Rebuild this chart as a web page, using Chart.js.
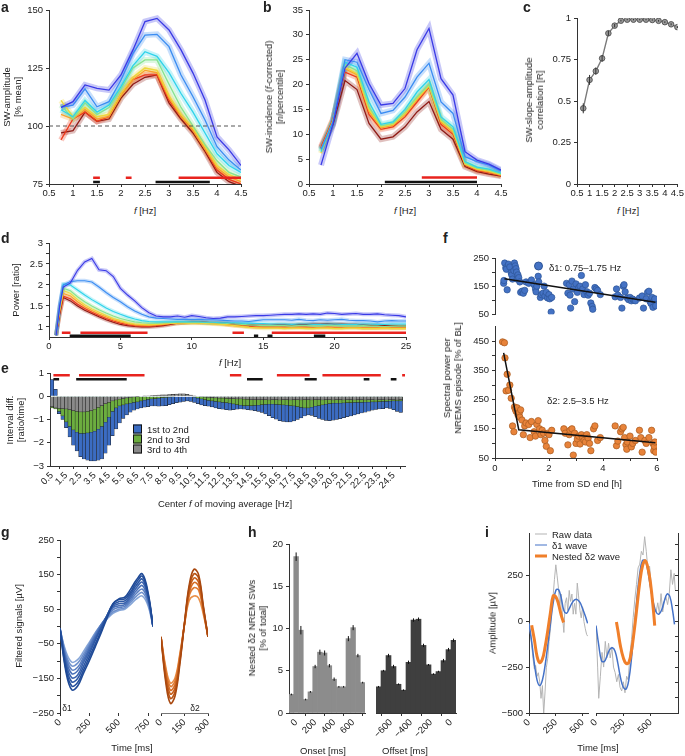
<!DOCTYPE html>
<html>
<head>
<meta charset="utf-8">
<script src="https://cdn.jsdelivr.net/npm/chart.js@4.4.1/dist/chart.umd.min.js"></script>
<style>
html, body { margin: 0; padding: 0; background: #fff; }
body { position: relative; width: 685px; height: 756px; overflow: hidden; font-family: "Liberation Sans", Arial, sans-serif; color: #222; }
canvas { position: absolute; }
.t { position: absolute; white-space: nowrap; font-size: 9.5px; line-height: 11px; text-align: center; transform: translate(-50%, -50%); }
.r { transform: translate(-50%, -50%) rotate(-90deg); }
.l { transform: translate(0, -50%); text-align: left; }
.p { position: absolute; font-weight: bold; font-size: 14px; line-height: 14px; }
.sw { display: inline-block; width: 7px; height: 7px; border: 0.5px solid #111; vertical-align: -1px; margin-right: 5px; }
</style>
</head>
<body>
<script>
// ---- a: SW amplitude per frequency ----
const aFreq = [0.75, 1, 1.25, 1.5, 1.75, 2, 2.25, 2.5, 2.75, 3, 3.25, 3.5, 3.75, 4, 4.25, 4.5];
const aBlue = [108, 110.5, 117.7, 116.2, 115.5, 122, 132.8, 145, 146.4, 141.4, 132.8, 122.8, 111.2, 95.3, 89.7, 83];
const aLightBlue = [108, 109, 116, 108.3, 110.5, 119.8, 131.3, 139.2, 139.5, 134.2, 122, 112.6, 102.6, 91.1, 85.3, 81];
const aCyan = [107, 104, 111, 106, 109, 117, 126, 132, 130, 123, 114, 106, 97, 88, 83, 80];
const aGreen = [109, 103, 110, 105, 108, 116, 125, 128.5, 128.5, 118, 108, 100, 92, 85, 80, 78];
const aYellow = [111, 104, 108, 104, 105, 114, 121, 125, 124, 113, 105, 99, 91, 83, 79, 77];
const aOrange = [105, 103, 107, 103, 104, 113, 120, 124, 123, 112, 104, 98, 90, 82, 78, 76];
const aRed = [94, 103, 106, 102, 104, 114, 120, 122, 122, 111, 104, 98, 90, 81, 77, 75];
const aDarkRed = [97, 98, 106, 102, 103, 112, 118, 121, 122, 110, 103, 97, 89, 80, 76, 74];
const aSigRed = [[1.42, 1.56], [2.1, 2.22], [3.2, 4.5]];
const aSigBlack = [[1.42, 1.56], [2.72, 3.85]];
const freqTicks = [0.5, 1, 1.5, 2, 2.5, 3, 3.5, 4, 4.5];

// ---- b: SW incidence ----
const bBlue = [3.8, 12, 23.3, 26.3, 20.2, 15.9, 16.2, 19.2, 27, 31.3, 21.2, 17.9, 6.5, 4.8, 4, 2.8];
const bLightBlue = [7, 12.5, 25, 24.5, 19, 14.2, 14.8, 17.5, 21.5, 24.3, 16.5, 14.2, 5.5, 4.5, 3.8, 2.6];
const bCyan = [6.5, 12.5, 24.5, 23.5, 16.5, 12, 12.5, 15, 18.5, 21, 13.5, 11.5, 4.5, 3.4, 3, 2.2];
const bGreen = [6.8, 12.5, 24, 22.8, 15.5, 11.7, 12.2, 14.5, 17.5, 20, 13, 11, 4.2, 3.2, 2.8, 2];
const bYellow = [6.2, 12.7, 23.5, 22.2, 15, 11.5, 12, 14.2, 17.2, 19.8, 12.7, 10.7, 4, 3, 2.6, 1.9];
const bOrange = [7, 12.8, 23.2, 22, 14.6, 11.3, 11.8, 14, 17, 19.6, 12.4, 10.4, 3.9, 2.9, 2.4, 1.8];
const bRed = [7.5, 13, 22.5, 21.5, 14, 11, 11.5, 13.5, 16.5, 19.5, 12, 10, 3.8, 2.7, 2.3, 1.7];
const bDarkRed = [7.2, 12, 20.8, 19, 12.2, 9, 9.5, 11.5, 14.5, 16.6, 11, 9, 3.5, 2.5, 2, 1.6];
const bSigRed = [[2.85, 4.0]];
const bSigBlack = [[2.08, 4.0]];

// ---- c: slope-amplitude correlation ----
const cCorr = [0.456, 0.627, 0.68, 0.757, 0.908, 0.954, 0.984, 0.99, 0.99, 0.99, 0.99, 0.988, 0.983, 0.975, 0.962, 0.945];
const cErr = [0.03, 0.03, 0.022, 0.02, 0.015, 0.01, 0.005, 0.004, 0.004, 0.004, 0.004, 0.004, 0.005, 0.005, 0.006, 0.006];

// ---- d: power spectrum ratio ----
const dFreq = [0.5, 0.75, 1, 1.5, 2, 2.5, 3, 3.5, 4, 4.5, 5, 5.5, 6, 6.5, 7, 7.5, 8, 8.5, 9, 9.5, 10, 10.5, 11, 11.5, 12, 12.5, 13, 13.5, 14, 14.5, 15, 15.5, 16, 16.5, 17, 17.5, 18, 18.5, 19, 19.5, 20, 20.5, 21, 21.5, 22, 22.5, 23, 23.5, 24, 24.5, 25];
const dBlue = [0.8, 1.5, 1.95, 2.05, 2.35, 2.55, 2.63, 2.36, 2.34, 2.2, 1.92, 1.76, 1.62, 1.46, 1.34, 1.26, 1.24, 1.24, 1.26, 1.23, 1.27, 1.25, 1.22, 1.2, 1.21, 1.24, 1.24, 1.25, 1.26, 1.27, 1.27, 1.28, 1.29, 1.3, 1.3, 1.31, 1.3, 1.31, 1.3, 1.33, 1.32, 1.3, 1.31, 1.32, 1.3, 1.3, 1.31, 1.29, 1.28, 1.27, 1.24];
const dLightBlue = [0.8, 1.5, 2.0, 2.08, 2.1, 2.1, 2.07, 1.95, 1.82, 1.7, 1.6, 1.48, 1.38, 1.3, 1.24, 1.21, 1.2, 1.19, 1.18, 1.18, 1.18, 1.18, 1.17, 1.17, 1.16, 1.15, 1.14, 1.14, 1.13, 1.15, 1.17, 1.17, 1.17, 1.17, 1.16, 1.18, 1.16, 1.15, 1.17, 1.16, 1.17, 1.18, 1.16, 1.15, 1.15, 1.14, 1.12, 1.14, 1.15, 1.14, 1.14];
const dCyan = [0.8, 1.5, 2.02, 2.0, 1.88, 1.76, 1.65, 1.55, 1.45, 1.37, 1.3, 1.24, 1.19, 1.15, 1.13, 1.12, 1.12, 1.12, 1.12, 1.12, 1.12, 1.12, 1.11, 1.11, 1.1, 1.1, 1.1, 1.09, 1.09, 1.08, 1.08, 1.07, 1.07, 1.07, 1.06, 1.07, 1.07, 1.06, 1.06, 1.07, 1.07, 1.06, 1.06, 1.06, 1.07, 1.07, 1.06, 1.06, 1.07, 1.07, 1.07];
const dGreen = [0.8, 1.45, 1.92, 1.86, 1.72, 1.6, 1.5, 1.41, 1.33, 1.26, 1.2, 1.16, 1.12, 1.1, 1.09, 1.09, 1.1, 1.1, 1.11, 1.11, 1.11, 1.11, 1.1, 1.1, 1.09, 1.08, 1.07, 1.06, 1.05, 1.04, 1.03, 1.03, 1.03, 1.03, 1.02, 1.03, 1.03, 1.02, 1.02, 1.03, 1.03, 1.02, 1.02, 1.02, 1.03, 1.02, 1.02, 1.01, 1.02, 1.02, 1.02];
const dYellow = [0.8, 1.42, 1.87, 1.8, 1.65, 1.53, 1.43, 1.35, 1.27, 1.2, 1.15, 1.1, 1.07, 1.06, 1.05, 1.06, 1.07, 1.08, 1.09, 1.09, 1.09, 1.09, 1.08, 1.07, 1.06, 1.05, 1.03, 1.01, 0.99, 0.98, 0.97, 0.97, 0.97, 0.96, 0.97, 0.97, 0.96, 0.96, 0.97, 0.97, 0.96, 0.96, 0.97, 0.97, 0.96, 0.96, 0.96, 0.97, 0.96, 0.96, 0.96];
const dOrange = [0.8, 1.38, 1.8, 1.74, 1.6, 1.48, 1.39, 1.31, 1.24, 1.17, 1.12, 1.08, 1.05, 1.04, 1.04, 1.05, 1.06, 1.08, 1.1, 1.1, 1.1, 1.1, 1.09, 1.08, 1.07, 1.05, 1.03, 1.02, 1.0, 0.99, 0.99, 0.99, 0.99, 0.98, 0.99, 0.99, 0.98, 0.98, 0.99, 0.99, 0.98, 0.98, 0.99, 0.99, 0.98, 0.98, 0.98, 0.99, 0.98, 0.98, 0.98];
const dRed = [0.8, 1.33, 1.73, 1.67, 1.54, 1.44, 1.35, 1.27, 1.2, 1.14, 1.09, 1.05, 1.03, 1.02, 1.02, 1.03, 1.05, 1.07, 1.09, 1.1, 1.11, 1.1, 1.1, 1.09, 1.08, 1.06, 1.05, 1.03, 1.02, 1.0, 1.0, 1.0, 1.0, 1.0, 0.99, 1.0, 1.0, 0.99, 0.99, 1.0, 0.99, 0.99, 0.99, 0.99, 0.98, 0.98, 0.98, 0.98, 0.98, 0.98, 0.98];
const dDarkRed = [0.8, 1.3, 1.7, 1.62, 1.5, 1.4, 1.32, 1.24, 1.17, 1.11, 1.06, 1.03, 1.01, 1.0, 1.0, 1.01, 1.03, 1.06, 1.09, 1.1, 1.12, 1.12, 1.11, 1.1, 1.1, 1.09, 1.07, 1.06, 1.05, 1.04, 1.04, 1.04, 1.05, 1.05, 1.05, 1.06, 1.06, 1.07, 1.07, 1.08, 1.07, 1.07, 1.06, 1.06, 1.05, 1.04, 1.04, 1.03, 1.03, 1.02, 1.02];
const dSigRed = [[0.9, 1.5], [2.2, 6.9], [12.85, 13.65], [15.6, 25]];
const dSigBlack = [[1.45, 5.72], [14.35, 14.65], [15.3, 15.65], [18.55, 19.35]];

// ---- e: interval differences (moving average centres, 0.25 Hz apart) ----
const eFreq = [0.5, 0.75, 1, 1.25, 1.5, 1.75, 2, 2.25, 2.5, 2.75, 3, 3.25, 3.5, 3.75, 4, 4.25, 4.5, 4.75, 5, 5.25, 5.5, 5.75, 6, 6.25, 6.5, 6.75, 7, 7.25, 7.5, 7.75, 8, 8.25, 8.5, 8.75, 9, 9.25, 9.5, 9.75, 10, 10.25, 10.5, 10.75, 11, 11.25, 11.5, 11.75, 12, 12.25, 12.5, 12.75, 13, 13.25, 13.5, 13.75, 14, 14.25, 14.5, 14.75, 15, 15.25, 15.5, 15.75, 16, 16.25, 16.5, 16.75, 17, 17.25, 17.5, 17.75, 18, 18.25, 18.5, 18.75, 19, 19.25, 19.5, 19.75, 20, 20.25, 20.5, 20.75, 21, 21.25, 21.5, 21.75, 22, 22.25, 22.5, 22.75, 23, 23.25, 23.5, 23.75, 24, 24.25, 24.5, 24.75, 25];
const eFirst = [0.72, 0.3, -0.75, -1.0, -1.35, -1.75, -2.1, -2.35, -2.6, -2.7, -2.75, -2.78, -2.78, -2.75, -2.7, -2.45, -2.1, -1.7, -1.4, -1.15, -0.95, -0.8, -0.68, -0.6, -0.55, -0.5, -0.47, -0.45, -0.42, -0.42, -0.43, -0.42, -0.4, -0.36, -0.32, -0.28, -0.25, -0.22, -0.2, -0.22, -0.27, -0.32, -0.37, -0.4, -0.43, -0.46, -0.5, -0.53, -0.56, -0.58, -0.6, -0.58, -0.56, -0.55, -0.56, -0.58, -0.6, -0.62, -0.65, -0.7, -0.76, -0.84, -0.92, -0.99, -1.05, -1.08, -1.1, -1.1, -1.06, -1.0, -0.93, -0.85, -0.8, -0.82, -0.88, -0.95, -1.0, -1.04, -1.05, -1.03, -1.0, -0.96, -0.92, -0.88, -0.85, -0.8, -0.76, -0.72, -0.68, -0.64, -0.6, -0.57, -0.55, -0.53, -0.5, -0.52, -0.58, -0.65, -0.7];
const eSecond = [-0.5, -0.55, -0.65, -0.85, -1.1, -1.3, -1.45, -1.55, -1.6, -1.6, -1.58, -1.55, -1.5, -1.42, -1.3, -1.12, -0.9, -0.65, -0.5, -0.42, -0.37, -0.33, -0.3, -0.27, -0.24, -0.2, -0.17, -0.14, -0.12, -0.1, -0.08, -0.06, -0.05, -0.04, -0.02, 0, 0.02, 0.03, 0.02, 0, -0.04, -0.08, -0.12, -0.15, -0.18, -0.2, -0.22, -0.24, -0.26, -0.28, -0.3, -0.33, -0.36, -0.38, -0.4, -0.4, -0.4, -0.39, -0.38, -0.36, -0.35, -0.34, -0.34, -0.35, -0.36, -0.37, -0.38, -0.4, -0.42, -0.45, -0.48, -0.5, -0.5, -0.47, -0.43, -0.4, -0.37, -0.34, -0.32, -0.3, -0.3, -0.3, -0.29, -0.28, -0.28, -0.27, -0.27, -0.26, -0.25, -0.25, -0.24, -0.24, -0.23, -0.22, -0.22, -0.21, -0.2, -0.2, -0.2];
const eThird = [-0.45, -0.5, -0.52, -0.53, -0.55, -0.58, -0.62, -0.65, -0.67, -0.67, -0.65, -0.62, -0.56, -0.48, -0.4, -0.32, -0.26, -0.2, -0.16, -0.13, -0.1, -0.07, -0.05, -0.03, -0.01, 0, 0.01, 0.02, 0.03, 0.04, 0.05, 0.06, 0.06, 0.07, 0.08, 0.09, 0.1, 0.1, 0.08, 0.05, 0.02, 0, -0.02, -0.04, -0.05, -0.06, -0.07, -0.08, -0.08, -0.09, -0.1, -0.1, -0.11, -0.12, -0.13, -0.14, -0.15, -0.15, -0.15, -0.15, -0.15, -0.16, -0.15, -0.15, -0.16, -0.15, -0.15, -0.16, -0.15, -0.15, -0.16, -0.15, -0.15, -0.16, -0.15, -0.15, -0.16, -0.15, -0.15, -0.16, -0.15, -0.15, -0.16, -0.15, -0.15, -0.16, -0.15, -0.15, -0.16, -0.15, -0.15, -0.16, -0.15, -0.15, -0.16, -0.15, -0.15, -0.16, -0.15];
const eSigRed = [[0.6, 1.75], [2.4, 7.0], [13.0, 13.8], [16.3, 18.6], [19.5, 23.6], [25.1, 25.3]];
const eSigBlack = [[0.6, 1.0], [2.2, 5.75], [14.2, 15.3], [18.25, 19.1], [22.4, 22.8], [24.3, 24.7]];
const eTicks = [0.5, 1.5, 2.5, 3.5, 4.5, 5.5, 6.5, 7.5, 8.5, 9.5, 10.5, 11.5, 12.5, 13.5, 14.5, 15.5, 16.5, 17.5, 18.5, 19.5, 20.5, 21.5, 22.5, 23.5, 24.5];

// ---- f: band power over recovery time ----
const fD1Time = [0.32, 0.33, 0.36, 0.4, 0.42, 0.45, 0.5, 0.55, 0.6, 0.62, 0.65, 0.7, 0.72, 0.75, 0.78, 0.8, 0.82, 0.85, 0.88, 0.92, 0.95, 1.0, 1.05, 1.1, 1.15, 1.25, 1.35, 1.45, 1.5, 1.52, 1.55, 1.6, 1.62, 1.68, 1.72, 1.78, 1.82, 1.85, 1.9, 1.95, 2.0, 2.03, 2.08, 2.1, 2.65, 2.7, 2.75, 2.78, 2.8, 2.85, 2.9, 2.95, 3.0, 3.05, 3.1, 3.15, 3.2, 3.25, 3.3, 3.35, 3.4, 3.45, 3.5, 3.55, 3.6, 3.62, 3.7, 3.75, 3.8, 3.9, 4.45, 4.5, 4.55, 4.65, 4.7, 4.75, 4.78, 4.82, 4.9, 4.95, 5.0, 5.05, 5.1, 5.15, 5.2, 5.35, 5.45, 5.5, 5.6, 5.65, 5.7, 5.75, 5.78, 5.82, 5.85, 5.9, 5.92, 5.95];
const fD1Power = [160, 170, 232, 215, 210, 137, 228, 218, 198, 190, 175, 205, 232, 222, 212, 200, 175, 190, 180, 165, 128, 132, 125, 135, 165, 160, 172, 155, 140, 130, 150, 185, 165, 110, 120, 125, 150, 115, 128, 108, 120, 105, 58, 110, 160, 125, 155, 118, 72, 168, 140, 95, 158, 128, 145, 150, 188, 140, 120, 155, 130, 118, 125, 90, 78, 68, 145, 140, 135, 120, 112, 140, 118, 110, 72, 150, 155, 130, 108, 102, 110, 98, 104, 100, 98, 108, 115, 72, 105, 128, 132, 95, 88, 110, 75, 100, 105, 80];
const fD1FitTime = [0.35, 5.94];
const fD1FitPower = [176, 93];
const fD2Time = [0.28, 0.35, 0.37, 0.41, 0.45, 0.5, 0.55, 0.6, 0.65, 0.7, 0.72, 0.75, 0.78, 0.82, 0.85, 0.9, 0.92, 0.95, 1.0, 1.05, 1.1, 1.15, 1.25, 1.3, 1.35, 1.45, 1.5, 1.55, 1.6, 1.65, 1.7, 1.75, 1.8, 1.85, 1.9, 1.95, 2.0, 2.05, 2.1, 2.55, 2.6, 2.7, 2.75, 2.78, 2.85, 2.9, 2.95, 3.0, 3.05, 3.1, 3.15, 3.2, 3.25, 3.3, 3.35, 3.4, 3.45, 3.5, 3.55, 3.65, 3.7, 3.8, 3.9, 4.45, 4.5, 4.55, 4.65, 4.7, 4.75, 4.8, 4.85, 4.88, 4.9, 5.0, 5.05, 5.1, 5.2, 5.35, 5.4, 5.45, 5.55, 5.6, 5.7, 5.8, 5.85, 5.88, 5.9, 5.92, 5.95];
const fD2Power = [448, 445, 393, 280, 337, 282, 300, 255, 160, 140, 225, 218, 210, 222, 198, 205, 190, 215, 180, 130, 160, 170, 165, 120, 175, 140, 125, 165, 178, 150, 130, 145, 135, 110, 90, 135, 130, 75, 145, 150, 135, 95, 130, 145, 150, 60, 135, 100, 115, 125, 98, 130, 120, 110, 105, 130, 118, 100, 75, 150, 160, 110, 120, 160, 92, 108, 140, 150, 155, 120, 95, 80, 105, 125, 88, 100, 110, 145, 120, 70, 110, 100, 120, 145, 100, 75, 90, 105, 70];
const fD2FitTime = [0.32, 0.88, 5.94];
const fD2FitPower = [410, 147, 102];

// ---- g: filtered waves ----
const gTime1 = [0, 50, 100, 150, 200, 250, 300, 350, 400, 450, 500, 550, 600, 650, 700, 750, 790];
const gDelta1 = [
  [-5, -130, -183, -172, -135, -98, -58, -18, 25, 65, 80, 85, 108, 135, 152, 95, 0],
  [-8, -122, -172, -162, -126, -88, -50, -12, 30, 66, 78, 80, 100, 128, 145, 90, 0],
  [-5, -112, -160, -150, -115, -78, -40, -4, 32, 62, 72, 74, 94, 120, 137, 86, 2],
  [-10, -104, -148, -140, -104, -70, -34, 0, 32, 58, 66, 68, 88, 112, 128, 82, 0],
  [-5, -95, -136, -128, -96, -62, -28, 4, 30, 54, 60, 63, 82, 104, 118, 76, 2],
  [-8, -88, -125, -118, -88, -56, -24, 6, 28, 48, 55, 58, 76, 96, 108, 70, 0],
  [-5, -80, -114, -106, -80, -50, -20, 6, 25, 42, 50, 54, 70, 88, 98, 64, 2],
  [-10, -72, -103, -96, -72, -45, -18, 5, 22, 38, 46, 50, 64, 80, 88, 58, 0]
];
const gTime2 = [0, 30, 60, 90, 120, 150, 180, 210, 240, 270, 300];
const gDelta2 = [
  [-30, -160, -222, -200, -110, 10, 120, 165, 150, 60, -30],
  [-30, -150, -208, -188, -103, 10, 112, 152, 140, 56, -30],
  [-30, -140, -195, -177, -97, 8, 104, 140, 128, 52, -30],
  [-30, -132, -184, -167, -91, 8, 96, 127, 117, 48, -30],
  [-30, -124, -173, -157, -86, 6, 88, 112, 105, 44, -30],
  [-30, -116, -163, -148, -80, 5, 75, 88, 82, 36, -30]
];

// ---- h: nested delta2 timing ----
const hOnsetMs = [-50, 0, 50, 100, 150, 200, 250, 300, 350, 400, 450, 500, 550, 600, 650, 700];
const hOnset = [2.2, 18.5, 9.8, 1.6, 2.5, 5.5, 7.2, 7.1, 5.6, 4.0, 3.1, 3.1, 8.8, 10.1, 6.8, 3.6];
const hOnsetErr = [0.1, 0.5, 0.5, 0.1, 0.1, 0.2, 0.3, 0.3, 0.2, 0.2, 0.1, 0.1, 0.3, 0.3, 0.2, 0.1];
const hOffsetMs = [-725, -675, -625, -575, -525, -475, -425, -375, -325, -275, -225, -175, -125, -75, -25, 25];
const hOffset = [3.1, 5.0, 6.8, 5.5, 3.4, 2.7, 6.0, 11.0, 11.1, 8.0, 5.7, 4.6, 4.9, 6.2, 7.5, 8.6];
const hOffsetErr = [0.1, 0.1, 0.2, 0.2, 0.1, 0.1, 0.2, 0.2, 0.2, 0.2, 0.1, 0.1, 0.1, 0.2, 0.2, 0.2];

// ---- i: example traces ----
const iRawT1 = [0, 12, 25, 37, 50, 62, 75, 87, 100, 112, 125, 137, 150, 162, 175, 187, 200, 212, 225, 237, 250, 262, 275, 287, 300, 312, 325, 337, 350, 362, 375, 387, 400, 412, 425, 437, 450, 462, 475, 487, 500, 512, 525, 537, 547];
const iRaw1 = [-20, -60, -130, -200, -260, -240, -300, -280, -330, -420, -350, -505, -380, -250, -200, -110, -40, 60, 140, 230, 310, 250, 180, 80, 150, 30, -60, 100, 130, 60, 170, 110, 150, 40, 100, 40, 210, 140, 60, 20, 80, 0, -40, -70, -80];
const iD1T1 = [0, 25, 50, 75, 100, 125, 150, 175, 200, 225, 250, 275, 300, 325, 350, 375, 400, 425, 450, 475, 500, 525, 547];
const iD1V1 = [-10, -110, -230, -320, -350, -320, -240, -130, -10, 100, 170, 175, 130, 60, 45, 70, 100, 118, 120, 105, 70, 30, -10];
const iD2T1 = [25, 50, 75, 100, 125, 150, 175, 200, 225, 250, 275, 300, 322];
const iD2V1 = [-20, -100, -190, -225, -205, -140, -50, 50, 140, 135, 95, 35, -5];
const iRawT2 = [0, 15, 25, 40, 55, 70, 85, 100, 115, 130, 145, 160, 175, 190, 205, 220, 235, 250, 265, 280, 295, 310, 325, 340, 355, 370, 385, 400, 415, 430, 445, 460, 475, 490, 505, 520, 535, 550, 565, 580, 595, 610, 625, 640, 655, 670, 685, 700, 715, 725];
const iRaw2 = [-30, -250, -420, -300, -170, -250, -110, -200, -120, -200, -140, -250, -280, -330, -290, -360, -380, -330, -390, -300, -320, -180, -100, 20, 120, 200, 290, 310, 380, 360, 460, 380, 280, 300, 200, 80, 60, 50, 100, 40, 150, 50, 110, 130, 90, 150, 280, 200, 260, 170];
const iD1T2 = [0, 25, 50, 75, 100, 125, 150, 175, 200, 225, 250, 275, 300, 325, 350, 375, 400, 425, 450, 475, 500, 525, 550, 575, 600, 625, 650, 675, 700, 718];
const iD1V2 = [-24, -130, -215, -220, -190, -155, -145, -165, -230, -310, -360, -370, -320, -200, -40, 130, 260, 330, 330, 270, 180, 100, 50, 38, 60, 110, 148, 135, 60, -18];
const iD2T2 = [187, 200, 225, 250, 275, 300, 325, 350, 375, 400, 425, 450, 475, 500, 525, 537];
const iD2V2 = [-5, -50, -140, -200, -230, -225, -160, -50, 80, 210, 300, 330, 290, 200, 60, -24];

// ---------- drawing ----------
Chart.defaults.font.family = '"Liberation Sans", Arial, sans-serif';
Chart.defaults.font.size = 9.5;
Chart.defaults.color = '#222';
Chart.defaults.animation = false;
Chart.defaults.responsive = false;
Chart.defaults.plugins.legend.display = false;
Chart.defaults.plugins.tooltip.enabled = false;
Chart.defaults.elements.point.radius = 0;
Chart.defaults.elements.line.tension = 0;

const jet = ['#3a3ae6', '#3b8df2', '#2fd3ea', '#86e38f', '#ecd93a', '#f9a12c', '#ee3a1c', '#8f1b16'];
const sigRedColor = '#e8231e';

// vertical error bars for datasets that carry an "errors" array
Chart.register({
  id: 'errorBars',
  afterDatasetsDraw(chart) {
    const ctx = chart.ctx;
    chart.data.datasets.forEach((ds, i) => {
      if (!ds.errors) return;
      const meta = chart.getDatasetMeta(i);
      const ys = chart.scales[meta.yAxisID];
      ctx.save();
      ctx.strokeStyle = ds.errorColor || '#111';
      ctx.lineWidth = 1;
      meta.data.forEach((el, j) => {
        const y = ds.data[j].y, e = ds.errors[j];
        ctx.beginPath();
        ctx.moveTo(el.x, ys.getPixelForValue(y - e));
        ctx.lineTo(el.x, ys.getPixelForValue(y + e));
        ctx.stroke();
      });
      ctx.restore();
    });
  }
});

function rgba(hex, a) {
  const n = parseInt(hex.slice(1), 16);
  return `rgba(${n >> 16},${(n >> 8) & 255},${n & 255},${a})`;
}
function pts(xs, ys) { return xs.map((x, i) => ({ x, y: ys[i] })); }
function segs(list, y) { return list.flatMap(([a, b]) => [{ x: a, y }, { x: b, y }, { x: b, y: null }]); }

function axis(min, max, ticks, o = {}) {
  const shown = o.labels || ticks;
  return {
    type: 'linear', min, max, offset: false, display: o.display !== false,
    grid: { drawOnChartArea: false, drawTicks: true, tickLength: 3, color: '#333', lineWidth: 1 },
    border: { display: o.border !== false, color: o.borderColor || '#333', width: 1 },
    ticks: {
      autoSkip: false, padding: o.pad ?? 2, minRotation: o.rot || 0, maxRotation: o.rot || 0,
      callback: v => (!o.noLabels && shown.includes(v)) ? String(v).replace('-', '\u2212') : ''
    },
    afterBuildTicks: s => { s.ticks = ticks.map(v => ({ value: v })); }
  };
}

// place a chart so that its plot area lands on [l, t, r, b] of the page
function plot(box, area, config) {
  const [x0, y0, w, h] = box, [l, t, r, b] = area;
  const cv = document.createElement('canvas');
  cv.width = w; cv.height = h;
  cv.style.left = x0 + 'px'; cv.style.top = y0 + 'px';
  document.body.appendChild(cv);
  const sc = config.options.scales;
  const pad = { left: 0, top: t - y0, right: x0 + w - r, bottom: 0 };
  if (sc.y.display === false) pad.left = l - x0; else sc.y.afterFit = s => { s.width = l - x0; };
  if (sc.x.display === false) pad.bottom = y0 + h - b; else sc.x.afterFit = s => { s.height = y0 + h - b; };
  config.options.layout = { padding: pad };
  return new Chart(cv, config);
}

function jetLines(xs, series, width, band) {
  const out = [];
  series.forEach((ys, i) => {
    out.push({ type: 'line', data: pts(xs, ys), borderColor: jet[i], borderWidth: width, order: 1 });
    out.push({ type: 'line', data: pts(xs, ys), borderColor: rgba(jet[i], 0.28), borderWidth: band, order: 2 });
  });
  return out;
}
function sigLines(red, redY, black, blackY) {
  return [
    { type: 'line', data: segs(red, redY), borderColor: sigRedColor, borderWidth: 2.5, order: -1 },
    { type: 'line', data: segs(black, blackY), borderColor: '#111', borderWidth: 2.5, order: -1 }
  ];
}

function text(html, x, y, cls, size) {
  const d = document.createElement('div');
  d.className = 't ' + (cls || '');
  d.style.left = x + 'px'; d.style.top = y + 'px';
  if (size) d.style.fontSize = size + 'px';
  d.innerHTML = html;
  document.body.appendChild(d);
}
function panel(letter, x, y) {
  const d = document.createElement('div');
  d.className = 'p'; d.style.left = x + 'px'; d.style.top = y + 'px';
  d.textContent = letter;
  document.body.appendChild(d);
}

// a
plot([0, 0, 252, 200], [49, 10, 241, 184], {
  type: 'line',
  data: { datasets: [
    ...jetLines(aFreq, [aBlue, aLightBlue, aCyan, aGreen, aYellow, aOrange, aRed, aDarkRed], 1.3, 6),
    { type: 'line', data: [{ x: 0.5, y: 100 }, { x: 4.5, y: 100 }], borderColor: '#555', borderWidth: 1, borderDash: [4, 3], order: 0 },
    ...sigLines(aSigRed, 77.7, aSigBlack, 75.9)
  ] },
  options: { scales: { x: axis(0.5, 4.5, freqTicks, { pad: 1 }), y: axis(75, 150, [75, 100, 125, 150], { pad: 3 }) } }
});

// b
plot([255, 0, 255, 200], [309, 10, 501, 184], {
  type: 'line',
  data: { datasets: [
    ...jetLines(aFreq, [bBlue, bLightBlue, bCyan, bGreen, bYellow, bOrange, bRed, bDarkRed], 1.3, 6),
    ...sigLines(bSigRed, 1.3, bSigBlack, 0.4)
  ] },
  options: { scales: { x: axis(0.5, 4.5, freqTicks, { pad: 1 }), y: axis(0, 35, [0, 5, 10, 15, 20, 25, 30, 35], { pad: 3 }) } }
});

// c
plot([530, 0, 155, 200], [577, 18, 678, 184], {
  type: 'line',
  data: { datasets: [{
    data: pts(aFreq, cCorr), borderColor: '#7a7a7a', borderWidth: 1.4,
    pointRadius: 2.8, pointBackgroundColor: '#9a9a9a', pointBorderColor: '#444', pointBorderWidth: 0.8,
    errors: cErr, errorColor: '#333'
  }] },
  options: { scales: { x: axis(0.5, 4.5, freqTicks, { pad: 1 }), y: axis(0, 1, [0, 0.25, 0.5, 0.75, 1], { pad: 3 }) } }
});

// d
plot([0, 232, 415, 122], [49, 243, 406, 337], {
  type: 'line',
  data: { datasets: [
    ...jetLines(dFreq, [dBlue, dLightBlue, dCyan, dGreen, dYellow, dOrange, dRed, dDarkRed], 1.1, 4),
    ...sigLines(dSigRed, 0.86, dSigBlack, 0.79)
  ] },
  options: { scales: {
    x: axis(0, 25, [0, 5, 10, 15, 20, 25], { pad: 1 }),
    y: axis(0.76, 3, [1, 1.25, 1.5, 1.75, 2, 2.25, 2.5, 2.75, 3], { labels: [1, 1.5, 2, 2.5, 3], pad: 3 })
  } }
});

// e
const eBar = { type: 'bar', grouped: false, barPercentage: 1, categoryPercentage: 1, borderWidth: 0.5, borderColor: '#1a1a1a' };
plot([0, 362, 415, 150], [50, 373, 405, 466], {
  type: 'bar',
  data: { datasets: [
    { ...eBar, data: pts(eFreq, eThird), backgroundColor: '#8a8a8a', order: 0 },
    { ...eBar, data: pts(eFreq, eSecond), backgroundColor: '#6cad3f', order: 1 },
    { ...eBar, data: pts(eFreq, eFirst), backgroundColor: '#3b6cc2', order: 2 },
    ...sigLines(eSigRed, 0.9, eSigBlack, 0.73)
  ] },
  options: { scales: {
    x: axis(0.36, 25.3, eTicks, { rot: 45, pad: 1 }),
    y: axis(-3, 1, [-3, -2, -1, 0, 1], { pad: 3 })
  } }
});

// f (upper: delta1, lower: delta2)
plot([440, 248, 235, 75], [495, 258, 657, 319], {
  type: 'scatter',
  data: { datasets: [
    { data: pts(fD1FitTime, fD1FitPower), showLine: true, borderColor: '#111', borderWidth: 1.5, pointRadius: 0, order: 0 },
    { data: pts(fD1Time, fD1Power), pointRadius: 3.2, backgroundColor: '#4472c4', borderColor: '#2d5496', pointBorderWidth: 0.7, order: 1 }
  ] },
  options: { scales: {
    x: { type: 'linear', min: 0, max: 6, display: false },
    y: axis(50, 250, [50, 100, 150, 200, 250], { labels: [50, 150, 250], pad: 3 })
  } }
});
plot([440, 318, 235, 158], [495, 325, 657, 458], {
  type: 'scatter',
  data: { datasets: [
    { data: pts(fD2FitTime, fD2FitPower), showLine: true, borderColor: '#111', borderWidth: 1.5, pointRadius: 0, order: 0 },
    { data: pts(fD2Time, fD2Power), pointRadius: 3.2, backgroundColor: '#e8833a', borderColor: '#a85a20', pointBorderWidth: 0.7, order: 1 }
  ] },
  options: { scales: {
    x: axis(0, 6, [0, 1, 2, 3, 4, 5, 6], { labels: [0, 2, 4, 6], pad: 2 }),
    y: axis(50, 500, [50, 100, 150, 200, 250, 300, 350, 400, 450], { labels: [50, 150, 250, 350, 450], pad: 3 })
  } }
});

// g
const gBlues = ['#1f4a96', '#244f9c', '#2d58a4', '#3a63ae', '#4a71b8', '#5b80c2', '#6f91cc', '#86a6d8'];
const gOranges = ['#a9480f', '#b95414', '#c8601c', '#d66e27', '#e07d36', '#e99049'];
plot([0, 530, 165, 226], [60, 540, 153, 713], {
  type: 'line',
  data: { datasets: gDelta1.map((ys, i) => ({ data: pts(gTime1, ys), borderColor: gBlues[i], borderWidth: 1.6, tension: 0.4 })) },
  options: { scales: {
    x: axis(0, 790, [0, 250, 500, 750], { rot: 45, pad: 1, border: false }),
    y: axis(-250, 250, [-250, -200, -150, -100, -50, 0, 50, 100, 150, 200, 250], { labels: [-250, -150, -50, 50, 150, 250], pad: 3 })
  } }
});
plot([150, 530, 75, 226], [161, 540, 208, 713], {
  type: 'line',
  data: { datasets: gDelta2.map((ys, i) => ({ data: pts(gTime2, ys), borderColor: gOranges[i], borderWidth: 1.6, tension: 0.4 })) },
  options: { scales: {
    x: axis(0, 300, [0, 150, 300], { rot: 45, pad: 1, borderColor: '#777' }),
    y: { type: 'linear', min: -250, max: 250, display: false }
  } }
});

// h
const hBar = { type: 'bar', barPercentage: 1, categoryPercentage: 1, borderWidth: 0, errorColor: '#111' };
plot([225, 530, 150, 226], [289, 544, 365, 713], {
  type: 'bar',
  data: { datasets: [{ ...hBar, data: pts(hOnsetMs, hOnset), backgroundColor: '#8c8c8c', errors: hOnsetErr }] },
  options: { scales: {
    x: axis(-75, 725, [0, 200, 400, 600], { rot: 45, pad: 1 }),
    y: axis(0, 20, [0, 5, 10, 15, 20], { pad: 3 })
  } }
});
plot([365, 530, 100, 226], [376, 544, 456, 713], {
  type: 'bar',
  data: { datasets: [{ ...hBar, data: pts(hOffsetMs, hOffset), backgroundColor: '#3f3f3f', errors: hOffsetErr }] },
  options: { scales: {
    x: axis(-750, 50, [-600, -400, -200, 0], { rot: 45, pad: 1 }),
    y: { type: 'linear', min: 0, max: 20, display: false }
  } }
});

// i
function iSets(rt, rv, d1t, d1v, d2t, d2v) {
  return [
    { data: pts(d2t, d2v), borderColor: '#f07f2a', borderWidth: 3, tension: 0.4, order: 0 },
    { data: pts(d1t, d1v), borderColor: '#4472c8', borderWidth: 1.5, tension: 0.4, order: 1 },
    { data: pts(rt, rv), borderColor: '#b4b4b4', borderWidth: 1, order: 2 }
  ];
}
plot([460, 525, 135, 231], [529, 533, 588, 713], {
  type: 'line',
  data: { datasets: iSets(iRawT1, iRaw1, iD1T1, iD1V1, iD2T1, iD2V1) },
  options: { scales: {
    x: axis(0, 550, [0, 250, 500], { rot: 45, pad: 1 }),
    y: axis(-500, 480, [-500, -250, 0, 250], { pad: 3 })
  } }
});
plot([590, 525, 95, 231], [596, 533, 678, 713], {
  type: 'line',
  data: { datasets: iSets(iRawT2, iRaw2, iD1T2, iD1V2, iD2T2, iD2V2) },
  options: { scales: {
    x: axis(0, 750, [0, 250, 500], { rot: 45, pad: 1 }),
    y: { type: 'linear', min: -500, max: 480, display: false }
  } }
});
// unlabelled axis at the right edge of i
plot([669, 525, 16, 231], [678, 533, 684, 713], {
  type: 'line',
  data: { datasets: [] },
  options: { scales: {
    x: { type: 'linear', min: 0, max: 1, display: false },
    y: axis(-6, 5.75, [-6, -5, -4, -3, -2, -1, 0, 1, 2, 3, 4, 5], { noLabels: true, pad: 0 })
  } }
});

// ---------- text ----------
panel('a', 1, 0); panel('b', 263, 0); panel('c', 523, 0);
panel('d', 1, 231); panel('e', 1, 361); panel('f', 443, 231);
panel('g', 1, 525); panel('h', 248, 525); panel('i', 485, 525);

text('SW-amplitude<br>[% mean]', 12, 97, 'r');
text('<i>f</i> [Hz]', 145, 210);
text('SW-incidence (<i>f</i>-corrected)<br>[<i>n</i>/percentile]', 274, 97, 'r');
text('<i>f</i> [Hz]', 405, 210);
text('SW-slope-amplitude<br>correlation [R]', 534, 100, 'r');
text('<i>f</i> [Hz]', 628, 210);

text('Power [ratio]', 15, 290, 'r');
text('<i>f</i> [Hz]', 230, 362);
text('Interval diff.<br>[ratio/time]', 15, 420, 'r');
text('Center <i>f</i> of moving average [Hz]', 225, 503);
text('<span class="sw" style="background:#3b6cc2"></span>1st to 2nd', 133, 429, 'l');
text('<span class="sw" style="background:#6cad3f"></span>2nd to 3rd', 133, 439, 'l');
text('<span class="sw" style="background:#8a8a8a"></span>3rd to 4th', 133, 449, 'l');

text('Spectral power per<br>NREMS episode [% of BL]', 452, 378, 'r');
text('Time from SD end [h]', 577, 483);
text('<span style="display:inline-block;width:7px;height:7px;border-radius:50%;background:#4472c4;border:0.5px solid #2d5496;margin-right:6px;vertical-align:0"></span>\u03b41: 0.75\u20131.75 Hz', 534, 267, 'l');
text('\u03b42: 2.5\u20133.5 Hz', 547, 400, 'l');

text('Filtered signals [\u00b5V]', 18, 626, 'r');
text('Time [ms]', 132, 747);
text('\u03b41', 67, 708, '', 8.5);
text('\u03b42', 195, 708, '', 8.5);

text('Nested \u03b42 NREM SWs<br>[% of total]', 257, 628, 'r');
text('Onset [ms]', 323, 750);
text('Offset [ms]', 405, 750);

text('Amplitude [\u00b5V]', 492, 623, 'r');
text('Time [ms]', 598, 747);
text('<span style="display:inline-block;width:12px;height:1px;background:#b4b4b4;vertical-align:3px;margin-right:5px"></span>Raw data', 535, 534, 'l');
text('<span style="display:inline-block;width:12px;height:1.5px;background:#4472c8;vertical-align:3px;margin-right:5px"></span>\u03b41 wave', 535, 545, 'l');
text('<span style="display:inline-block;width:12px;height:3px;background:#f07f2a;vertical-align:2px;margin-right:5px"></span>Nested \u03b42 wave', 535, 556, 'l');
</script>
</body>
</html>
